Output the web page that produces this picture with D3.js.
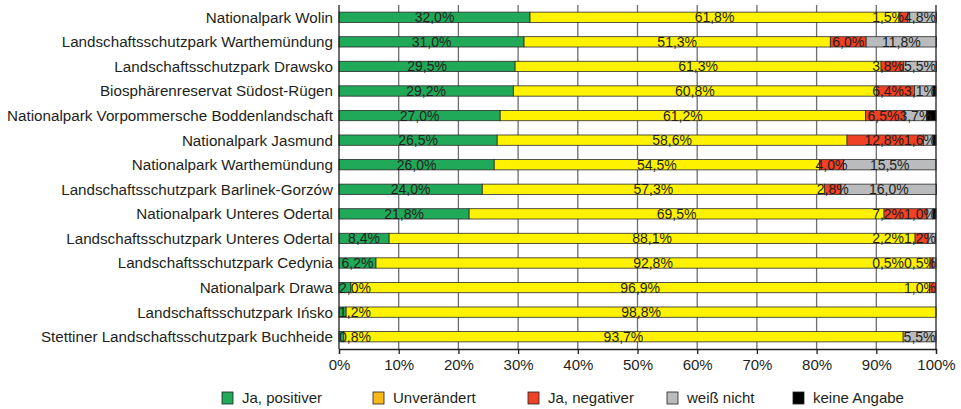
<!DOCTYPE html>
<html>
<head>
<meta charset="utf-8">
<script src="https://cdn.jsdelivr.net/npm/d3@7"></script>
<style>
  body { margin: 0; background: #fff; }
  text { font-family: "Liberation Sans", Arial, sans-serif; }
</style>
</head>
<body>
<svg id="chart" width="961" height="409"></svg>
<script>
// categories, top to bottom
var parks = [
  "Nationalpark Wolin",
  "Landschaftsschutzpark Warthemündung",
  "Landschaftsschutzpark Drawsko",
  "Biosphärenreservat Südost-Rügen",
  "Nationalpark Vorpommersche Boddenlandschaft",
  "Nationalpark Jasmund",
  "Nationalpark Warthemündung",
  "Landschaftsschutzpark Barlinek-Gorzów",
  "Nationalpark Unteres Odertal",
  "Landschaftsschutzpark Unteres Odertal",
  "Landschaftsschutzpark Cedynia",
  "Nationalpark Drawa",
  "Landschaftsschutzpark Ińsko",
  "Stettiner Landschaftsschutzpark Buchheide"
];

var seriesNames = ["Ja, positiver", "Unverändert", "Ja, negativer", "weiß nicht", "keine Angabe"];

// values in percent, one array per series
var jaPositiver   = [32.0, 31.0, 29.5, 29.2, 27.0, 26.5, 26.0, 24.0, 21.8, 8.4, 6.2, 2.0, 1.2, 0.8];
var unveraendert  = [61.8, 51.3, 61.3, 60.8, 61.2, 58.6, 54.5, 57.3, 69.5, 88.1, 92.8, 96.9, 98.8, 93.7];
var jaNegativer   = [1.5, 6.0, 3.8, 6.4, 6.5, 12.8, 4.0, 2.8, 7.2, 2.2, 0.5, 1.0, 0, 0];
var weissNicht    = [4.8, 11.8, 5.5, 3.1, 3.7, 1.6, 15.5, 16.0, 1.0, 1.2, 0.5, 0, 0, 5.5];
var keineAngabe   = [0, 0, 0, 0.5, 1.6, 0.5, 0, 0, 0.5, 0, 0, 0, 0, 0];

var tickValues = [0, 10, 20, 30, 40, 50, 60, 70, 80, 90, 100];

var barColours = ["#21a95a", "#fff200", "#ef4124", "#b9bbbd", "#000000"];
var legendColours = ["#21a95a", "#f9b816", "#ef4124", "#b9bbbd", "#000000"];

var rows = parks.map(function (p, i) {
  return {
    park: p,
    s0: jaPositiver[i],
    s1: unveraendert[i],
    s2: jaNegativer[i],
    s3: weissNicht[i],
    s4: keineAngabe[i]
  };
});
var keys = ["s0", "s1", "s2", "s3", "s4"];

var svg = d3.select("#chart");
var plotTop = 5;
var plotBottom = 349;

var x = d3.scaleLinear().domain([0, 100]).range([339, 936]);
var y = d3.scaleBand().domain(parks).range([plotTop, plotBottom]).paddingInner(0.58).paddingOuter(0.29);

// grid lines
svg.append("g")
  .selectAll("line")
  .data(tickValues.slice(1, -1))
  .enter().append("line")
  .attr("x1", function (d) { return x(d); })
  .attr("x2", function (d) { return x(d); })
  .attr("y1", plotTop)
  .attr("y2", plotBottom)
  .attr("stroke", "#6d6e70")
  .attr("stroke-width", 1.3);

var stacked = d3.stack().keys(keys)(rows);

var layer = svg.append("g").selectAll("g")
  .data(stacked)
  .enter().append("g")
  .attr("fill", function (d, i) { return barColours[i]; });

layer.selectAll("rect")
  .data(function (d) { return d.filter(function (e) { return e[1] - e[0] > 0; }); })
  .enter().append("rect")
  .attr("x", function (d) { return x(d[0]); })
  .attr("y", function (d) { return y(d.data.park); })
  .attr("width", function (d) { return x(d[1]) - x(d[0]); })
  .attr("height", y.bandwidth())
  .attr("stroke", "#2b2b2b")
  .attr("stroke-width", 0.8);

// segment labels (no label on the black segment)
var fmt = function (v) { return v.toFixed(1).replace(".", ",") + "%"; };
var labelGroup = svg.append("g");
rows.forEach(function (r, i) {
  var labels = [];
  stacked.slice(0, 4).forEach(function (s) {
    var d = s[i];
    if (d[1] - d[0] <= 0) return;
    var t = labelGroup.append("text")
      .attr("y", y(r.park) + y.bandwidth() / 2)
      .attr("dy", "0.36em")
      .attr("font-size", 14)
      .attr("fill", "#231f20")
      .text(fmt(d[1] - d[0]));
    var w = t.node().getComputedTextLength();
    labels.push({ t: t, w: w, left: (x(d[0]) + x(d[1])) / 2 - w / 2 });
  });
  // keep labels inside the plot and push them apart, working from the right
  var limit = x(100);
  for (var k = labels.length - 1; k >= 0; k--) {
    var l = labels[k];
    if (l.left < x(0)) l.left = x(0);
    if (l.left + l.w > limit) l.left = limit - l.w;
    limit = Math.min(limit, l.left);
  }
  labels.forEach(function (l) { l.t.attr("x", l.left); });
});

// left and right frame lines
svg.append("line")
  .attr("x1", x(0)).attr("x2", x(0))
  .attr("y1", plotTop).attr("y2", plotBottom)
  .attr("stroke", "#231f20").attr("stroke-width", 1.3);
svg.append("line")
  .attr("x1", x(100)).attr("x2", x(100))
  .attr("y1", plotTop).attr("y2", plotBottom)
  .attr("stroke", "#231f20").attr("stroke-width", 1.3);

// category labels
svg.append("g").selectAll("text")
  .data(parks)
  .enter().append("text")
  .attr("x", 333)
  .attr("y", function (d) { return y(d) + y.bandwidth() / 2; })
  .attr("dy", "0.36em")
  .attr("text-anchor", "end")
  .attr("font-size", 15.2)
  .attr("fill", "#231f20")
  .text(function (d) { return d; });

// x axis
var xAxis = d3.axisBottom(x)
  .tickValues(tickValues)
  .tickSize(5)
  .tickFormat(function (d) { return d + "%"; });
var gx = svg.append("g")
  .attr("transform", "translate(0," + plotBottom + ")")
  .call(xAxis);
gx.select(".domain").attr("stroke", "#231f20").attr("stroke-width", 1.3);
gx.selectAll(".tick line").attr("stroke", "#231f20").attr("stroke-width", 1.3);
gx.selectAll(".tick text")
  .attr("font-size", 15)
  .attr("font-family", "Liberation Sans, Arial, sans-serif")
  .attr("fill", "#231f20")
  .attr("y", 10)
  .attr("dy", "0.71em");

// legend
var legendX = [222, 373, 528, 667, 793];
var legendY = 398;
var legend = svg.append("g").selectAll("g")
  .data(seriesNames)
  .enter().append("g")
  .attr("transform", function (d, i) { return "translate(" + legendX[i] + "," + legendY + ")"; });
legend.append("rect")
  .attr("x", 0).attr("y", -6)
  .attr("width", 11).attr("height", 12)
  .attr("fill", function (d, i) { return legendColours[i]; })
  .attr("stroke", "#231f20")
  .attr("stroke-width", 0.8);
legend.append("text")
  .attr("x", 20)
  .attr("y", 0)
  .attr("dy", "0.36em")
  .attr("font-size", 15)
  .attr("fill", "#231f20")
  .text(function (d) { return d; });
</script>
</body>
</html>
